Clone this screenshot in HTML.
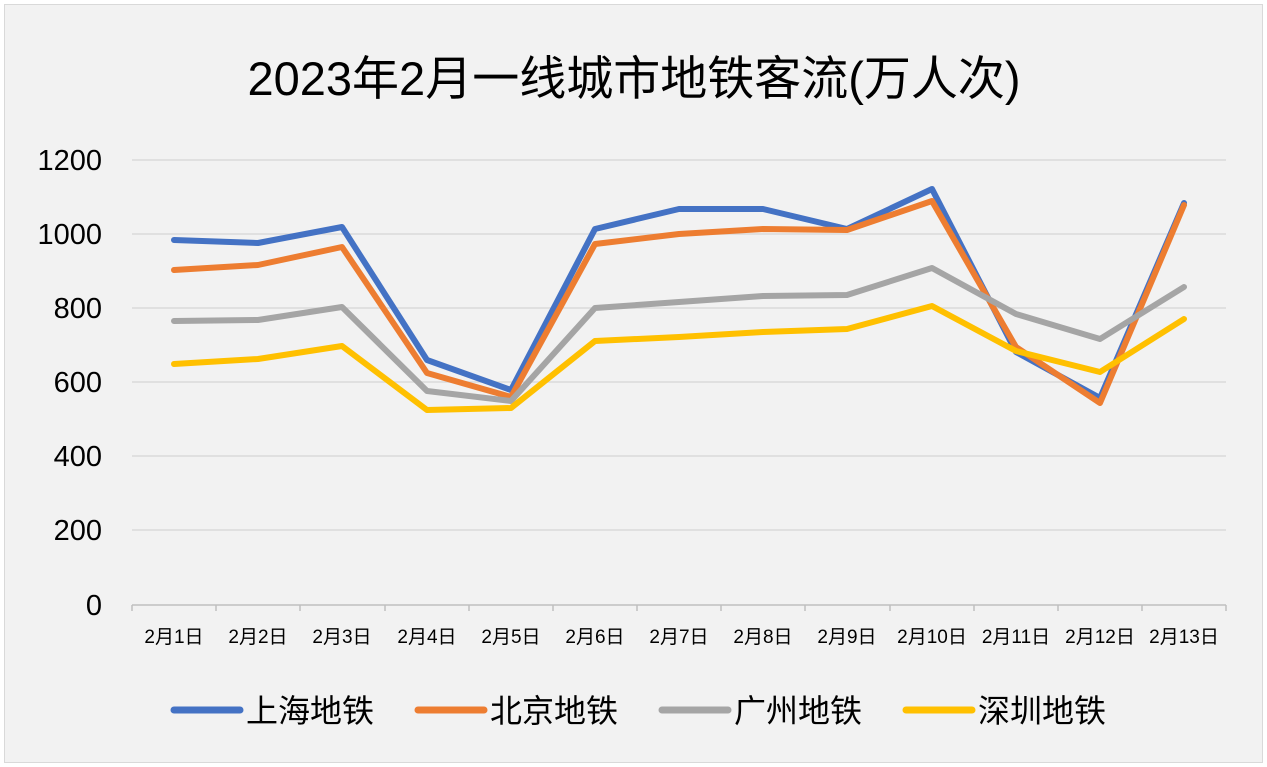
<!DOCTYPE html>
<html><head><meta charset="utf-8"><style>
html,body{margin:0;padding:0;background:#fff}
svg{display:block}
text{font-family:"Liberation Sans","Noto Sans CJK SC",sans-serif}
</style></head><body>
<svg width="1267" height="767" viewBox="0 0 1267 767" xmlns="http://www.w3.org/2000/svg">
<rect x="0" y="0" width="1267" height="767" fill="#fff"/>
<rect x="4.5" y="4.5" width="1258" height="758" fill="#f2f2f2" stroke="#d9d9d9" stroke-width="1"/>
<text x="634" y="95" font-size="47" text-anchor="middle" fill="#000">2023年2月一线城市地铁客流(万人次)</text>
<g stroke="#d9d9d9" stroke-width="1.5">
<line x1="132" y1="160" x2="1226" y2="160"/>
<line x1="132" y1="234" x2="1226" y2="234"/>
<line x1="132" y1="308" x2="1226" y2="308"/>
<line x1="132" y1="382" x2="1226" y2="382"/>
<line x1="132" y1="456" x2="1226" y2="456"/>
<line x1="132" y1="530" x2="1226" y2="530"/>
</g>
<g stroke="#bfbfbf" stroke-width="1.5">
<line x1="132" y1="605" x2="1226" y2="605"/>
<line x1="132" y1="605" x2="132" y2="611"/><line x1="216" y1="605" x2="216" y2="611"/><line x1="300" y1="605" x2="300" y2="611"/><line x1="385" y1="605" x2="385" y2="611"/><line x1="469" y1="605" x2="469" y2="611"/><line x1="553" y1="605" x2="553" y2="611"/><line x1="637" y1="605" x2="637" y2="611"/><line x1="721" y1="605" x2="721" y2="611"/><line x1="805" y1="605" x2="805" y2="611"/><line x1="890" y1="605" x2="890" y2="611"/><line x1="974" y1="605" x2="974" y2="611"/><line x1="1058" y1="605" x2="1058" y2="611"/><line x1="1142" y1="605" x2="1142" y2="611"/><line x1="1226" y1="605" x2="1226" y2="611"/>
</g>
<g font-size="29" text-anchor="end" fill="#000">
<text x="102" y="170">1200</text><text x="102" y="244">1000</text><text x="102" y="318">800</text><text x="102" y="392">600</text><text x="102" y="466">400</text><text x="102" y="540">200</text><text x="102" y="615">0</text>
</g>
<g font-size="19" text-anchor="middle" fill="#000">
<text x="174" y="643">2月1日</text><text x="258" y="643">2月2日</text><text x="342" y="643">2月3日</text><text x="427" y="643">2月4日</text><text x="511" y="643">2月5日</text><text x="595" y="643">2月6日</text><text x="679" y="643">2月7日</text><text x="763" y="643">2月8日</text><text x="847" y="643">2月9日</text><text x="932" y="643">2月10日</text><text x="1016" y="643">2月11日</text><text x="1100" y="643">2月12日</text><text x="1184" y="643">2月13日</text>
</g>
<g fill="none" stroke-width="6" stroke-linejoin="round" stroke-linecap="round">
<polyline stroke="#4472C4" points="174,240 258,243 342,227 427,360 511,390 595,229 679,209 763,209 847,229 932,189 1016,352 1100,398 1184,203"/>
<polyline stroke="#ED7D31" points="174,270 258,265 342,247 427,373 511,397 595,244 679,234 763,229 847,230 932,201 1016,347 1100,403 1184,205"/>
<polyline stroke="#A5A5A5" points="174,321 258,320 342,307 427,391 511,401 595,308 679,302 763,296 847,295 932,268 1016,314 1100,339 1184,287"/>
<polyline stroke="#FFC000" points="174,364 258,359 342,346 427,410 511,408 595,341 679,337 763,332 847,329 932,306 1016,351 1100,372 1184,319"/>
</g>
<g stroke-width="7" stroke-linecap="round">
<line x1="174" y1="710" x2="240" y2="710" stroke="#4472C4"/>
<line x1="418" y1="710" x2="484" y2="710" stroke="#ED7D31"/>
<line x1="662" y1="710" x2="728" y2="710" stroke="#A5A5A5"/>
<line x1="906" y1="710" x2="972" y2="710" stroke="#FFC000"/>
</g>
<g font-size="32" fill="#000">
<text x="246" y="722">上海地铁</text><text x="490" y="722">北京地铁</text><text x="734" y="722">广州地铁</text><text x="978" y="722">深圳地铁</text>
</g>
</svg>
</body></html>
